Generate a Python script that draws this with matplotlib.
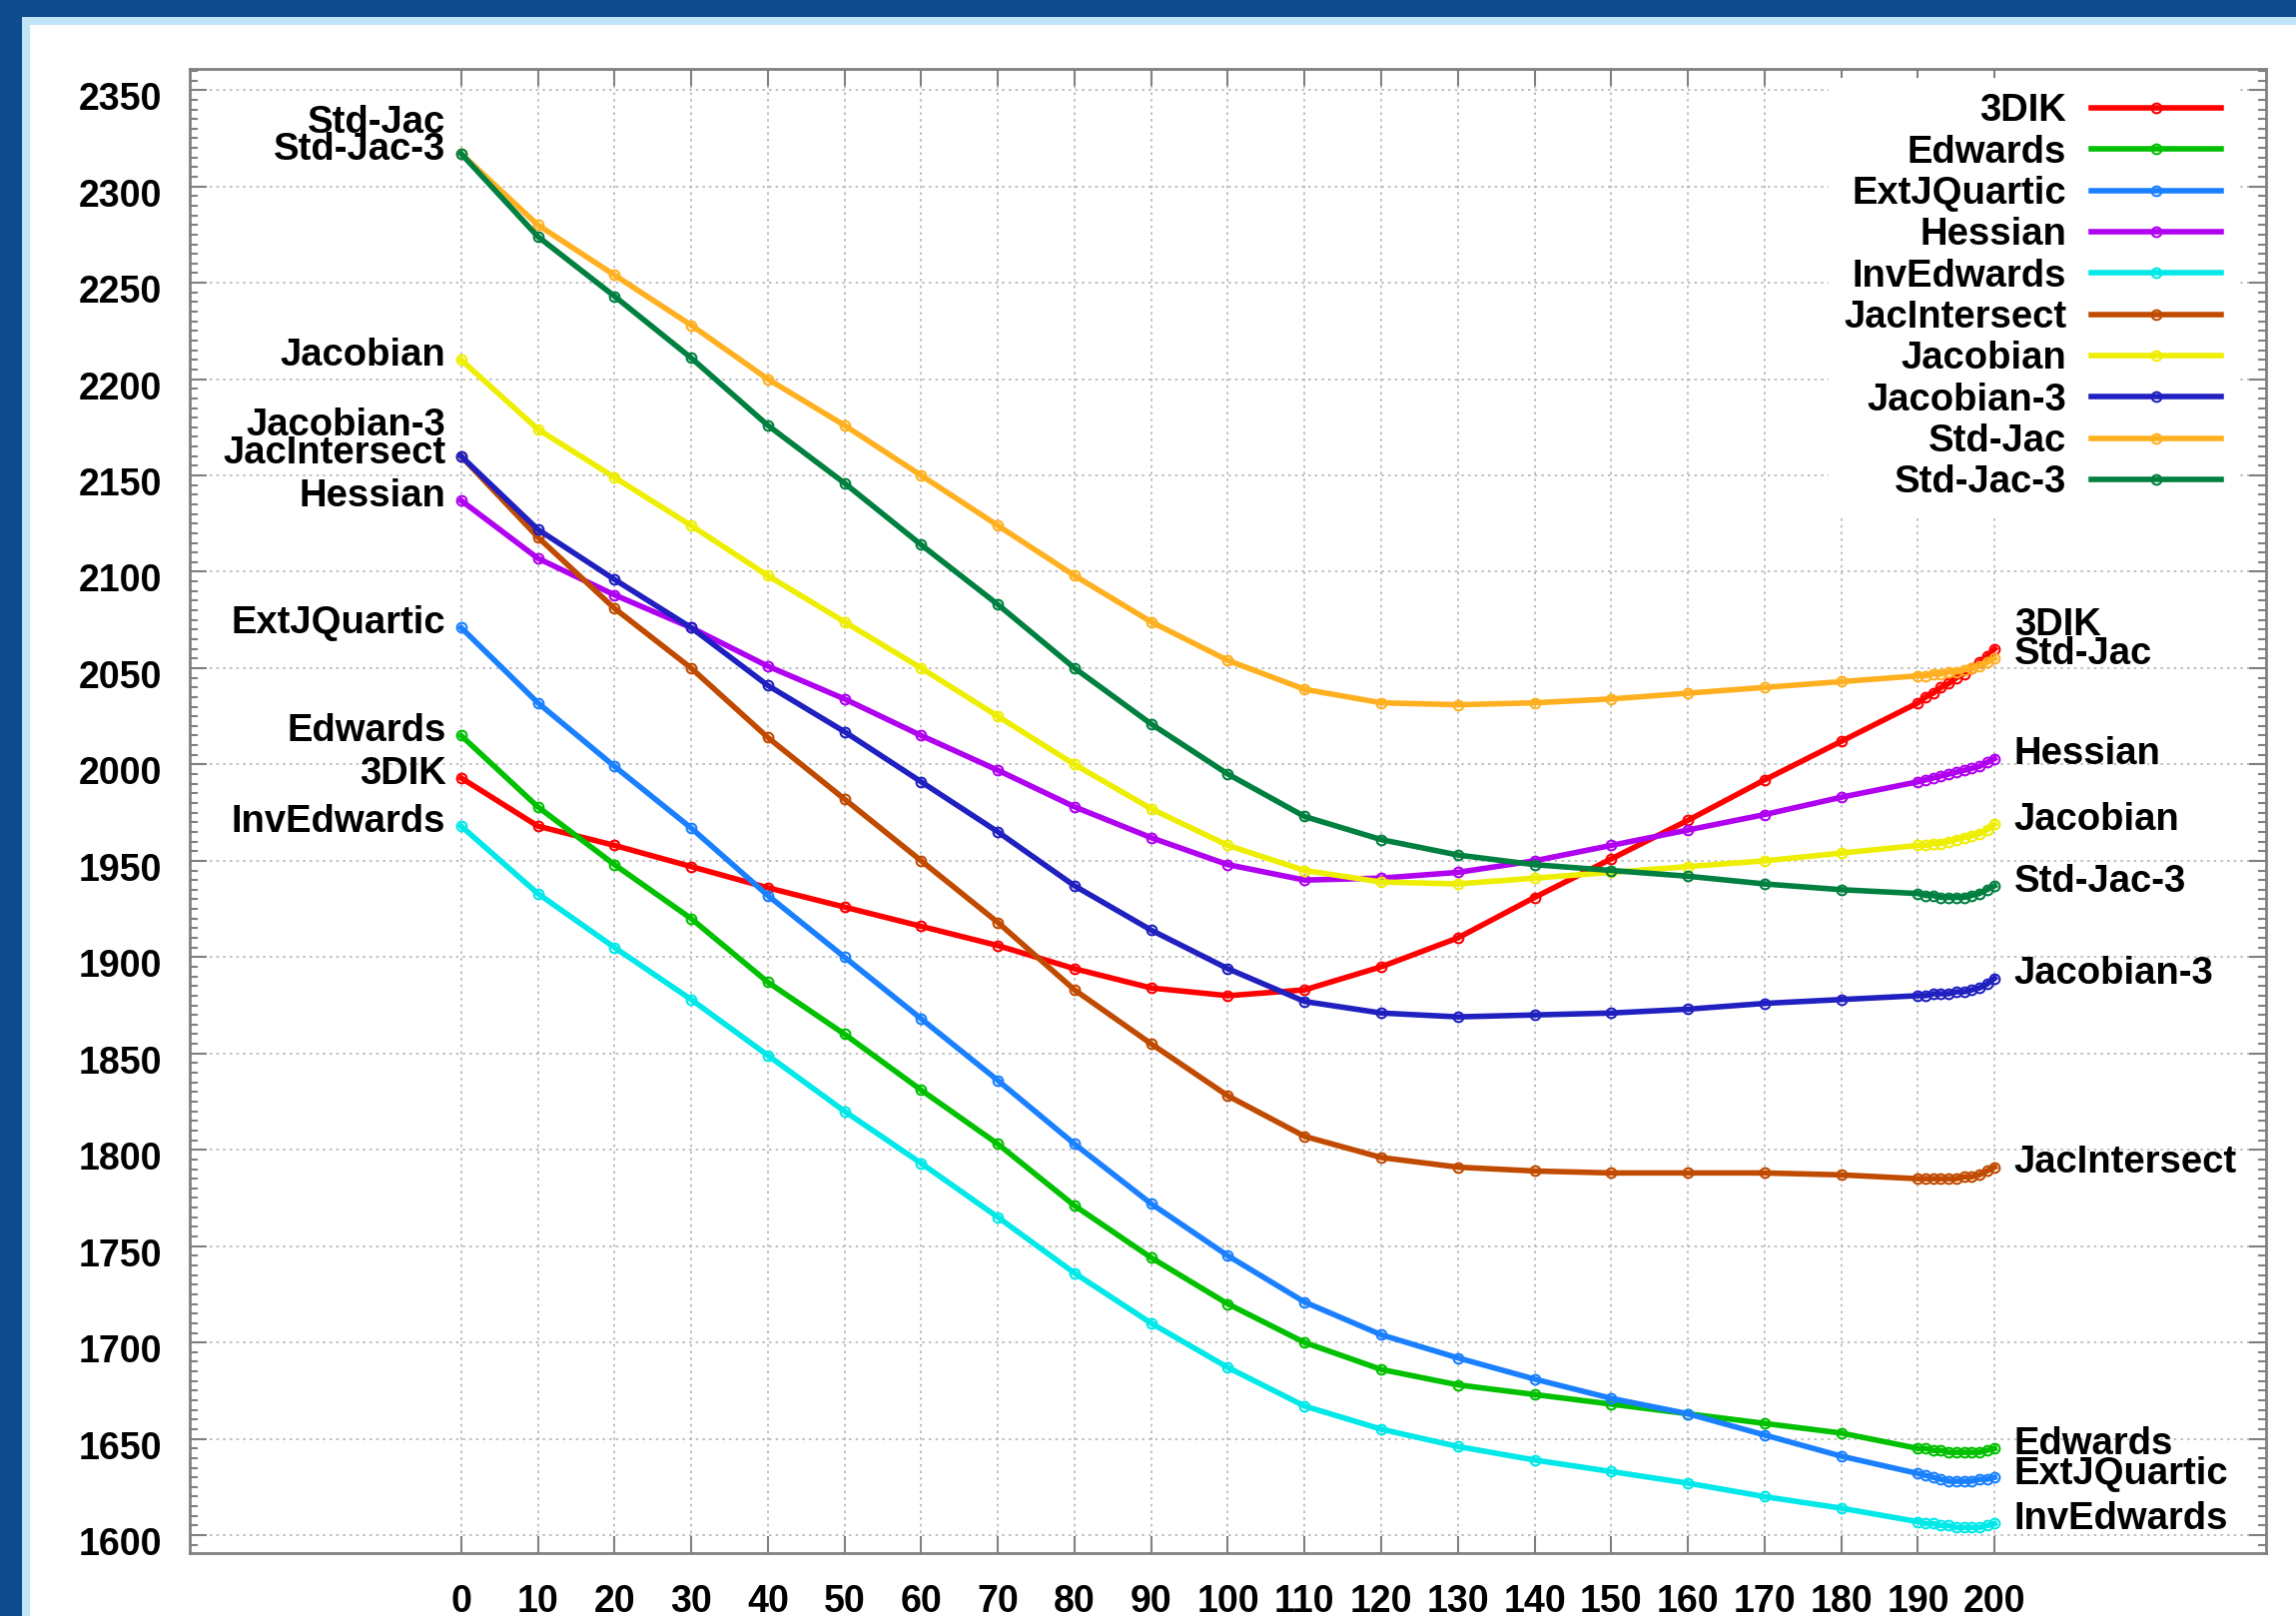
import numpy as np
import matplotlib.pyplot as plt
from matplotlib.patches import Rectangle
from matplotlib.ticker import MultipleLocator
from matplotlib.transforms import ScaledTranslation

# 步数 (x 轴)
steps = [0, 10, 20, 30, 40, 50, 60, 70, 80, 90, 100, 110, 120, 130, 140, 150,
         160, 170, 180, 190, 191, 192, 193, 194, 195, 196, 197, 198, 199, 200]

names = ['3DIK', 'Edwards', 'ExtJQuartic', 'Hessian', 'InvEdwards',
         'JacIntersect', 'Jacobian', 'Jacobian-3', 'Std-Jac', 'Std-Jac-3']

dik3 = [1993, 1968, 1958, 1947, 1936, 1926, 1916, 1906, 1894, 1884, 1880, 1883,
        1895, 1910, 1931, 1951, 1971, 1992, 2012, 2032,
        2035, 2037, 2040, 2042, 2045, 2047, 2050, 2053, 2056, 2060]
edwards = [2015, 1978, 1948, 1920, 1887, 1860, 1831, 1803, 1771, 1744, 1720, 1700,
           1686, 1678, 1673, 1668, 1663, 1658, 1653, 1645,
           1645, 1644, 1644, 1643, 1643, 1643, 1643, 1643, 1644, 1645]
extjquartic = [2071, 2032, 1999, 1967, 1932, 1900, 1868, 1836, 1803, 1772, 1745, 1721,
               1704, 1692, 1681, 1671, 1663, 1652, 1641, 1632,
               1631, 1630, 1629, 1628, 1628, 1628, 1628, 1629, 1629, 1630]
hessian = [2137, 2107, 2088, 2071, 2051, 2034, 2015, 1997, 1978, 1962, 1948, 1940,
           1941, 1944, 1950, 1958, 1966, 1974, 1983, 1991,
           1992, 1993, 1994, 1995, 1996, 1997, 1998, 1999, 2001, 2003]
invedwards = [1968, 1933, 1905, 1878, 1849, 1820, 1793, 1765, 1736, 1710, 1687, 1667,
              1655, 1646, 1639, 1633, 1627, 1620, 1614, 1607,
              1606, 1606, 1605, 1605, 1604, 1604, 1604, 1604, 1605, 1606]
jacintersect = [2160, 2118, 2081, 2050, 2014, 1982, 1950, 1918, 1883, 1855, 1828, 1807,
                1796, 1791, 1789, 1788, 1788, 1788, 1787, 1785,
                1785, 1785, 1785, 1785, 1785, 1786, 1786, 1787, 1789, 1791]
jacobian = [2210, 2174, 2149, 2124, 2098, 2074, 2050, 2025, 2000, 1977, 1958, 1945,
            1939, 1938, 1941, 1944, 1947, 1950, 1954, 1958,
            1958, 1959, 1959, 1960, 1961, 1962, 1963, 1964, 1966, 1969]
jacobian3 = [2160, 2122, 2096, 2071, 2041, 2017, 1991, 1965, 1937, 1914, 1894, 1877,
             1871, 1869, 1870, 1871, 1873, 1876, 1878, 1880,
             1880, 1881, 1881, 1881, 1882, 1882, 1883, 1884, 1886, 1889]
stdjac = [2317, 2280, 2254, 2228, 2200, 2176, 2150, 2124, 2098, 2074, 2054, 2039,
          2032, 2031, 2032, 2034, 2037, 2040, 2043, 2046,
          2046, 2047, 2047, 2048, 2048, 2049, 2050, 2051, 2053, 2055]
stdjac3 = [2317, 2274, 2243, 2211, 2176, 2146, 2114, 2083, 2050, 2021, 1995, 1973,
           1961, 1953, 1948, 1945, 1942, 1938, 1935, 1933,
           1932, 1932, 1931, 1931, 1931, 1931, 1932, 1933, 1935, 1937]

series = [dik3, edwards, extjquartic, hessian, invedwards,
          jacintersect, jacobian, jacobian3, stdjac, stdjac3]

colors = ['#ff0000', '#00c000', '#1a80ff', '#b000f0', '#00e8e8',
          '#c04a00', '#eeee00', '#2020c0', '#ffb020', '#008040']

# 两端标签的偏移 (points)
left_dy = {'Std-Jac': 22, 'Jacobian-3': 22, 'JacIntersect': 2}
right_dy = {'3DIK': 17, 'ExtJQuartic': 2}

FONT = ['Liberation Sans', 'DejaVu Sans']
plt.rcParams['font.family'] = FONT
plt.rcParams['font.weight'] = 'bold'

W, H = 2299, 1618
fig = plt.figure(figsize=(W / 100, H / 100), dpi=100)
fig.patch.set_facecolor('#0f4c8f')
fig.add_artist(Rectangle((22 / W, 0), 1, (H - 17) / H, transform=fig.transFigure,
                         facecolor='#c2e4f8', edgecolor='none', zorder=-10))
fig.add_artist(Rectangle((30 / W, 0), 1, (H - 25) / H, transform=fig.transFigure,
                         facecolor='white', edgecolor='none', zorder=-9))

ax = fig.add_axes([190 / W, (H - 1555) / H, (2269 - 190) / W, (1555 - 69) / H])

for name, vals, c in zip(names, series, colors):
    ax.plot(steps, vals, color=c, lw=4, marker='o', ms=7, mfc='none',
            mew=1.5, label=name)
    ax.annotate(name, xy=(steps[0], vals[0]), xytext=(-11, left_dy.get(name, 3)),
                textcoords='offset points', ha='right', va='center',
                fontsize=27.5, fontweight='bold')
    ax.annotate(name, xy=(steps[-1], vals[-1]), xytext=(14, right_dy.get(name, 3)),
                textcoords='offset points', ha='left', va='center',
                fontsize=27.5, fontweight='bold')

ax.set_xlim(-35.4, 235.4)
ax.set_ylim(1590.7, 2361)
ax.set_xticks(range(0, 201, 10))
ax.set_yticks(range(1600, 2351, 50))
ax.yaxis.set_minor_locator(MultipleLocator(5))

ax.tick_params(which='both', direction='in', top=True, right=True,
               color='#808080', width=1.5)
ax.tick_params(which='major', length=12, labelsize=27)
ax.tick_params(which='minor', length=6)
ax.tick_params(axis='y', pad=20)
ax.tick_params(axis='x', pad=22)
for s in ax.spines.values():
    s.set_color('#808080')
    s.set_linewidth(2)

ax.grid(True, which='major', color='#b4b4b4', linestyle=(0, (1.5, 2.5)), lw=1.2)
ax.set_axisbelow(True)

# y 刻度标签略微下移
offset = ScaledTranslation(0, -6 / 100, fig.dpi_scale_trans)
for lab in ax.get_yticklabels():
    lab.set_transform(lab.get_transform() + offset)

leg = ax.legend(loc='upper right', bbox_to_anchor=(0.9856, 0.994),
                markerfirst=False, frameon=True, fancybox=False,
                fontsize=27.5, handlelength=3.4, handletextpad=0.65,
                labelspacing=0.14, borderpad=0.4, borderaxespad=0)
leg.get_frame().set_facecolor('white')
leg.get_frame().set_edgecolor('none')
leg.get_frame().set_alpha(1)

fig.savefig('out.png', dpi=100)
